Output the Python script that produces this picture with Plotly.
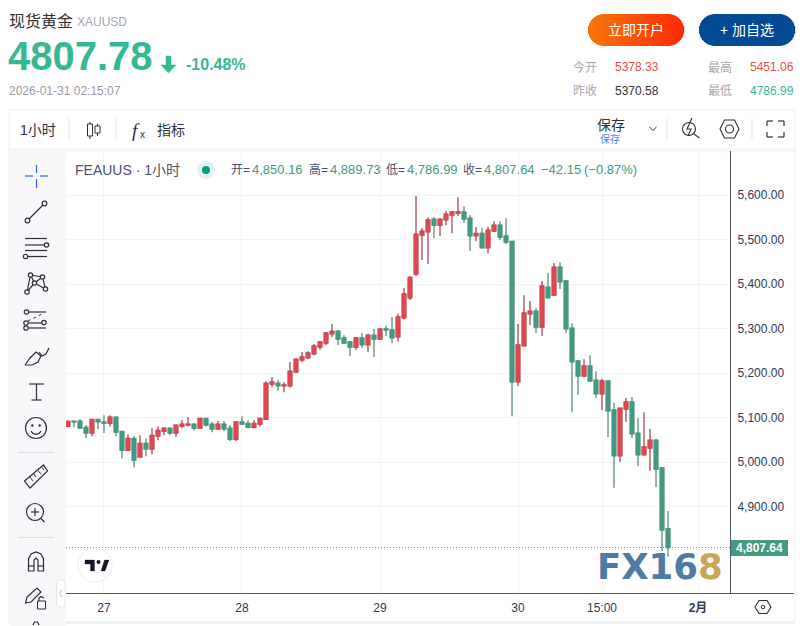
import plotly.graph_objects as go

W, H = 805, 626

# hourly candles
opens = [5080,5092,5092,5078,5065,5096,5090,5087,5101,5069,5026,5053,5011,5042,5029,5058,5069,5076,5065,5080,
         5083,5085,5076,5098,5085,5074,5085,5076,5051,5090,5087,5078,5085,5096,5175,5177,5171,5171,5202,5229,
         5234,5243,5258,5267,5288,5294,5279,5270,5258,5279,5263,5285,5276,5299,5297,5281,5324,5369,5422,5510,
         5517,5546,5532,5544,5555,5559,5562,5548,5508,5514,5481,5519,5532,5508,5496,5180,5261,5333,5339,5303,
         5393,5375,5438,5407,5301,5227,5193,5216,5184,5153,5182,5117,5014,5119,5135,5065,5016,5031,5049,4987,4850.16]
highs = [5094,5092,5096,5083,5096,5096,5105,5105,5103,5069,5062,5058,5060,5053,5076,5080,5078,5078,5085,5094,
         5101,5087,5098,5098,5090,5092,5092,5083,5092,5103,5094,5094,5098,5182,5191,5184,5180,5225,5231,5247,
         5249,5265,5272,5292,5310,5297,5285,5270,5279,5290,5288,5299,5299,5306,5326,5333,5391,5418,5598,5526,
         5550,5550,5548,5564,5564,5595,5575,5555,5528,5526,5528,5541,5541,5548,5496,5310,5375,5362,5346,5407,
         5425,5447,5449,5409,5312,5229,5231,5240,5204,5187,5182,5133,5121,5144,5146,5099,5112,5074,5052,4987,4889.73]
lows = [5078,5078,5076,5054,5058,5074,5065,5080,5058,5008,5026,4988,5011,5013,5017,5049,5060,5060,5056,5076,
        5080,5071,5076,5080,5067,5074,5069,5047,5047,5083,5076,5076,5080,5096,5168,5160,5157,5168,5200,5225,
        5231,5240,5252,5263,5281,5263,5267,5238,5252,5256,5247,5236,5274,5283,5267,5270,5321,5364,5418,5454,
        5445,5503,5508,5532,5514,5553,5537,5474,5496,5481,5469,5517,5499,5490,5103,5171,5261,5308,5290,5283,
        5369,5375,5389,5290,5112,5151,5193,5180,5144,5117,5056,4942,5000,5090,5054,4991,5014,4980,4944,4800,4786.99]
closes = [5091,5090,5076,5065,5096,5090,5087,5101,5067,5026,5053,5004,5042,5029,5060,5071,5076,5065,5083,5085,
          5085,5076,5098,5083,5074,5085,5074,5051,5090,5085,5078,5087,5098,5177,5180,5171,5173,5204,5231,5236,
          5245,5261,5270,5290,5294,5276,5267,5258,5279,5263,5285,5276,5299,5297,5279,5326,5378,5415,5512,5519,
          5544,5532,5546,5557,5562,5562,5546,5508,5514,5481,5521,5532,5505,5494,5180,5263,5335,5339,5303,5396,
          5369,5438,5405,5299,5225,5193,5216,5182,5153,5182,5115,5014,5121,5135,5063,5016,5034,5049,4984,4847,4807.64]

x_ticks = [6, 29, 52, 75, 89, 105]
x_labels = ["27", "28", "29", "30", "15:00", "<b>2月</b>"]
y_ticks = [4900, 5000, 5100, 5200, 5300, 5400, 5500, 5600]
last_close = closes[-1]

GREEN = "#429a82"
RED = "#e2474f"
TEXT_GREEN = "#36b894"
AXIS = "#4a5578"
INK = "#2b2f3a"
SANS = "Liberation Sans, Noto Sans CJK SC"

bars = list(range(len(closes)))
shapes = []
annotations = []


# everything outside the plot is placed in page pixels
def px(x):
    return x / W


def py_(y):
    return 1 - y / H


def path(points, close=False):
    s = "M " + " L ".join("{:.5f},{:.5f}".format(px(a), py_(b)) for a, b in points)
    return s + (" Z" if close else "")


def line(points, color=INK, width=1.2, close=False, fill=None, dash=None):
    shapes.append(dict(type="path", xref="paper", yref="paper", path=path(points, close),
                       line=dict(color=color, width=width, dash=dash or "solid"),
                       fillcolor=fill or "rgba(0,0,0,0)", layer="above"))


def rect(x0, y0, x1, y1, fill, layer="below", border=None):
    shapes.append(dict(type="rect", xref="paper", yref="paper", x0=px(x0), x1=px(x1), y0=py_(y0), y1=py_(y1),
                       fillcolor=fill, line=dict(color=border or fill, width=1 if border else 0), layer=layer))


def circle(cx, cy, r, color=INK, fill="rgba(0,0,0,0)", width=1.2):
    shapes.append(dict(type="circle", xref="paper", yref="paper", x0=px(cx - r), x1=px(cx + r),
                       y0=py_(cy - r), y1=py_(cy + r), fillcolor=fill,
                       line=dict(color=color, width=width), layer="above"))


def text(x, y, s, size=12, color=INK, anchor="left", family=SANS):
    if anchor == "left":
        x -= 1
    annotations.append(dict(x=px(x), y=py_(y), xref="paper", yref="paper", text=s, showarrow=False,
                            xanchor=anchor, yanchor="middle", align=anchor, borderpad=0,
                            font=dict(size=size, color=color, family=family)))


def capsule(x0, x1, y0, y1, left, right):
    # pill shaped button cut in thin columns so that it can carry a gradient
    r = (y1 - y0) / 2
    n = int(x1 - x0)
    lc = [int(left[i:i + 2], 16) for i in (1, 3, 5)]
    rc = [int(right[i:i + 2], 16) for i in (1, 3, 5)]
    for i in range(n):
        xm = x0 + i + 0.5
        d = max(x0 + r - xm, xm - (x1 - r), 0)
        h = (max(r * r - d * d, 0)) ** 0.5
        t = i / (n - 1)
        c = [round(a + (b - a) * t) for a, b in zip(lc, rc)]
        rect(x0 + i, y0 + r - h, x0 + i + 1.2, y0 + r + h, "rgb({},{},{})".format(*c), layer="above")


# header
text(9, 21, "现货黄金", 16, "#333333")
text(77, 22, "XAUUSD", 12, "#a3a6b4")
text(8, 56, "<b>4807.78</b>", 40, TEXT_GREEN)
line([(166, 56), (171, 56), (171, 65), (176, 65), (168.5, 73), (161, 65), (166, 65)], TEXT_GREEN, 0.5, True, TEXT_GREEN)
text(186, 65, "<b>-10.48%</b>", 16, TEXT_GREEN)
text(9, 91, "2026-01-31 02:15:07", 12, "#9a9aa6")
capsule(588, 684, 14, 46, "#f8760e", "#fa2a02")
capsule(699, 795, 14, 46, "#034a94", "#034a94")
text(636, 30, "立即开户", 14, "white", "center")
text(747, 30, "+ 加自选", 14, "white", "center")
for x, y, s, c in [(573, 67, "今开", "#a6a6ae"), (708, 67, "最高", "#a6a6ae"), (573, 91, "昨收", "#a6a6ae"),
                   (708, 91, "最低", "#a6a6ae"), (615, 67, "5378.33", "#f04a4a"), (750, 67, "5451.06", "#f04a4a"),
                   (615, 91, "5370.58", "#333333"), (750, 91, "4786.99", TEXT_GREEN)]:
    text(x, y, s, 12, c)

# chart frame and toolbars
rect(9, 110, 795, 622, "white", border="#eceef2")
rect(10, 148, 794, 152, "#f6f6f8")
rect(10, 152, 66, 626, "#f8f8fa")
rect(66, 621, 795, 624, "#f0f1f5")
line([(66, 593.5), (794, 593.5)], AXIS, 1)
for x in (69, 116, 667, 752):
    line([(x, 118), (x, 140)], "#e2e4ea", 1)
text(20, 130, "1小时", 14, INK)
line([(90, 122), (90, 139)], INK, 1)
rect(87.5, 124, 92.5, 136, "white", "above", INK)
line([(97.5, 124), (97.5, 136)], INK, 1)
rect(95, 126, 100, 133, "white", "above", INK)
text(132, 130, "<i>f</i>", 19, INK, family="Liberation Serif")
text(140, 135, "x", 10, INK)
text(157, 130, "指标", 14, INK)
text(597, 125, "保存", 14, INK)
text(600, 139, "保存", 10, "#5b7cff")
line([(649.5, 127), (653, 130.5), (656.5, 127)], INK, 1)
circle(689, 129, 6.5, INK, width=1.1)
line([(694, 134), (699.5, 138)], INK, 1.1)
line([(692, 118), (687, 129), (691, 129), (688, 136)], INK, 1.1)
line([(720, 129), (724.5, 120), (734.5, 120), (739, 129), (734.5, 138), (724.5, 138)], INK, 1.1, True)
circle(729.5, 129, 4, INK, width=1.1)
for a, b, c, d in [(767, 126, 767, 121), (767, 121, 773, 121), (778, 121, 784, 121), (784, 121, 784, 126),
                   (767, 132, 767, 137), (767, 137, 773, 137), (778, 137, 784, 137), (784, 137, 784, 132)]:
    line([(a, b), (c, d)], INK, 1.2)

# legend line above the candles
text(75, 170, "FEAUUS · 1小时", 14, "#4a5068")
circle(206, 170, 9, "#e0f2ef", "#e0f2ef", 0)
circle(206, 170, 4, "#089981", "#089981", 0)
for x, s in [(231, "开="), (309, "高="), (386, "低="), (463, "收=")]:
    text(x, 170, s, 12, "#4a5068")
for x, s in [(252, "4,850.16"), (330, "4,889.73"), (407, "4,786.99"), (484, "4,807.64"),
             (541, "−42.15"), (584, "(−0.87%)")]:
    text(x, 170, s, 13, GREEN)

# left drawing tools
BLUE = "#2962ff"
for a, b, c, d in [(25, 176, 33, 176), (40, 176, 48, 176), (36.5, 165, 36.5, 173), (36.5, 179, 36.5, 188)]:
    line([(a, b), (c, d)], BLUE, 1.2)
line([(29, 219), (43, 205)])
circle(27.5, 220.5, 2.3)
circle(44.5, 203.5, 2.3)
for y, a, b in [(238.5, 25, 47), (245, 25, 44), (250.5, 25, 47), (256.5, 28, 47)]:
    line([(a, y), (b, y)])
circle(46.5, 245, 2.2)
circle(25.5, 256.5, 2.2)
line([(30.5, 275), (27, 292), (34.5, 283), (30.5, 275), (42.5, 277), (34.5, 283), (45.5, 289), (42.5, 277)])
for cx, cy in [(30.5, 275), (42.5, 277), (34.5, 283), (27, 292), (45.5, 289)]:
    circle(cx, cy, 2.2, fill="#f8f8fa")
for y in (312, 323, 328):
    line([(28.5, y), (46, y)])
line([(28, 321), (44, 313)], INK, 1, dash="dot")
for cx, cy in [(26.5, 312), (26, 323), (26, 328), (44, 322.5)]:
    circle(cx, cy, 2.2, fill="#f8f8fa")
line([(25, 365), (30, 358), (36, 352), (41, 356), (38, 362), (32, 365), (25, 365)])
line([(39, 352), (42, 356), (46, 354), (49, 348)])
line([(29, 384), (44, 384)])
line([(36.5, 384), (36.5, 400)])
line([(31.5, 400), (41.5, 400)])
circle(36, 428, 10.5)
circle(32.3, 425.5, 0.6, fill=INK)
circle(39.7, 425.5, 0.6, fill=INK)
line([(31, 431), (33, 433.5), (36, 434.3), (39, 433.5), (41, 431)])
for y in (452.5, 537.5):
    line([(18, y), (54, y)], "#dcdee6", 1)
line([(24.5, 481), (43.5, 465), (47.5, 471), (30, 488)], INK, 1.2, True)
for a, b, c, d in [(30, 477, 33, 481), (34, 474, 36, 477), (38, 470.5, 41, 474), (42, 467.5, 44, 470)]:
    line([(a, b), (c, d)], INK, 1)
circle(35, 512, 8.5)
line([(41, 518.5), (44.5, 522)])
line([(31, 512), (39, 512)])
line([(35, 508), (35, 516)])
line([(28.5, 571), (28.5, 559), (31, 554), (36, 552), (41, 554), (43.5, 559), (43.5, 571), (38, 571), (38, 560),
      (36, 558), (34, 560), (34, 571)], INK, 1.2, True)
line([(28.5, 566), (34, 566)])
line([(38, 566), (43.5, 566)])
line([(25.5, 603), (27, 597), (37, 588), (41, 592), (31, 602)], INK, 1.2, True)
rect(37.5, 601, 45.5, 609, "#f8f8fa", "above", INK)
line([(39, 601), (39, 598), (41, 596.5), (44, 598)])
line([(33, 625), (34.5, 622), (37.5, 622), (39, 625)])

# collapse tab and the chart settings button
shapes.append(dict(type="path", xref="paper", yref="paper", layer="above", fillcolor="white",
                   line=dict(color="#e6e8ee", width=1),
                   path=path([(58, 580), (63, 580), (65, 582), (65, 605), (63, 607), (58, 607), (56.5, 605), (56.5, 582)], True)))
line([(62, 590), (59.5, 593.5), (62, 597)], "#b4b8c4", 1)
line([(755, 607), (759, 600.5), (767, 600.5), (771, 607), (767, 613.5), (759, 613.5)], INK, 1.1, True)
circle(763, 607, 1.8, INK, width=1)

# price tag and dotted last price line
shapes.append(dict(type="line", xref="paper", yref="y", x0=px(66), x1=px(730), y0=last_close, y1=last_close,
                   line=dict(color="#2f9e86", width=1, dash="1px,2px"), layer="above"))
rect(731, 540, 788, 556, GREEN, "above")
annotations.append(dict(x=px(759.5), y=last_close, xref="paper", yref="y", text="<b>4,807.64</b>", showarrow=False,
                        xanchor="center", yanchor="middle", font=dict(size=12, color="white", family=SANS)))

# logos
circle(95, 565, 17, "#eeeeee", "white", 1)
line([(85, 560), (94.5, 560), (94.5, 571), (90.5, 571), (90.5, 564), (85, 564)], "#131722", 0.3, True, "#131722")
circle(98.5, 562, 2, "#131722", "#131722", 0)
line([(101, 571), (104.5, 560), (109, 560), (105, 571)], "#131722", 0.3, True, "#131722")
text(597, 566.5, '<b><span style="color:#4d7ba3">FX16</span><span style="color:#c9a75a">8</span></b>', 35.5,
     "#4d7ba3", family="DejaVu Sans")

# wicks first, then clean bodies on top
candles = go.Candlestick(x=bars, open=opens, high=highs, low=lows, close=closes, whiskerwidth=0,
                         increasing=dict(line=dict(color="#a84a5a", width=1.3), fillcolor=RED),
                         decreasing=dict(line=dict(color="#5a8f7a", width=1.3), fillcolor=GREEN),
                         hoverinfo="skip", showlegend=False)
bodies = go.Candlestick(x=bars, open=opens, close=closes,
                        high=[max(a, b) for a, b in zip(opens, closes)],
                        low=[min(a, b) for a, b in zip(opens, closes)], whiskerwidth=0,
                        increasing=dict(line=dict(color=RED, width=0.5), fillcolor=RED),
                        decreasing=dict(line=dict(color=GREEN, width=0.5), fillcolor=GREEN),
                        hoverinfo="skip", showlegend=False)

fig = go.Figure(data=[candles, bodies])
fig.update_layout(
    width=W, height=H, autosize=False,
    margin=dict(l=0, r=0, t=0, b=0),
    paper_bgcolor="white", plot_bgcolor="white",
    showlegend=False, hovermode=False, boxgap=0.1,
    font=dict(family=SANS, size=12, color="#2f3a55"),
    shapes=shapes, annotations=annotations,
    xaxis=dict(domain=[66 / W, 730 / W], range=[-0.33, 110.33], rangeslider=dict(visible=False),
               tickmode="array", tickvals=x_ticks, ticktext=x_labels,
               showgrid=True, gridcolor="#f2f3f5", gridwidth=1, zeroline=False,
               showline=False, ticks="outside", ticklen=4, tickcolor="rgba(0,0,0,0)",
               tickfont=dict(size=12, color="#2f3a55")),
    yaxis=dict(domain=[1 - 593 / H, 1 - 151 / H], range=[4705.6, 5698.9], side="right",
               tickmode="array", tickvals=y_ticks, tickformat=",.2f",
               showgrid=True, gridcolor="#f2f3f5", gridwidth=1, zeroline=False,
               showline=True, linecolor=AXIS, linewidth=1, ticks="outside", ticklen=4,
               tickcolor="rgba(0,0,0,0)", tickfont=dict(size=12, color="#2f3a55")),
)

fig.write_html("out.html", config=dict(displayModeBar=False),
               post_script="document.body.style.margin='0';document.documentElement.style.overflow='hidden';")
